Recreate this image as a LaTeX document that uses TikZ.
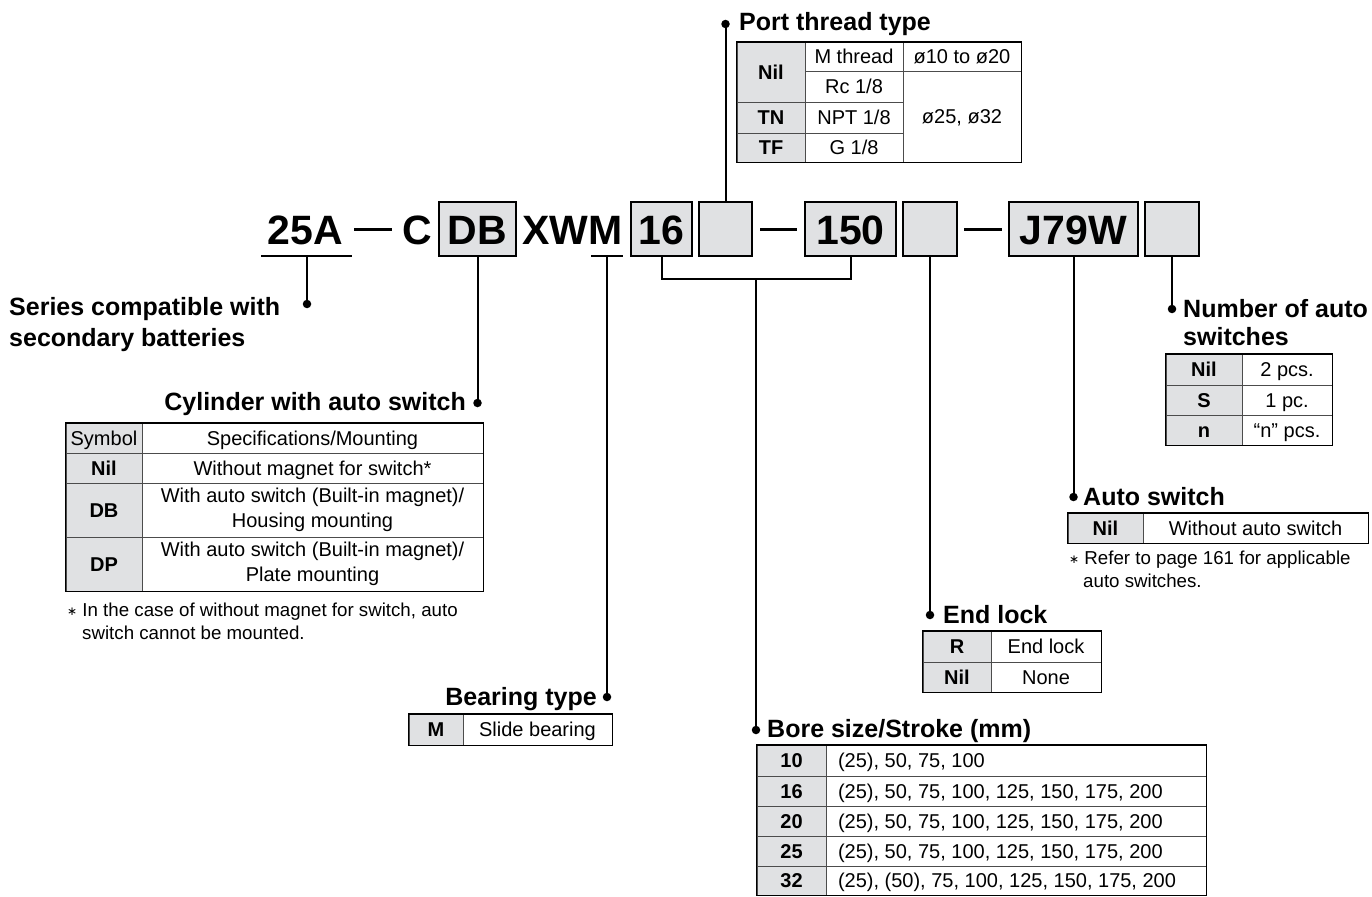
\documentclass[tikz,border=0pt]{standalone}
\usepackage{fontspec}
\setmainfont{Liberation Sans}
\newfontfamily\dejavu{DejaVu Sans}
\definecolor{cellgray}{HTML}{E0E1E3}
\newcommand\tcell[7]{%
  \node[#6,minimum width={(#4-#2)*1pt},minimum height={(#5-#3)*1pt}] (#1) at ({(#2+#4)/2},{(#3+#5)/2}) {#7};}
\newcommand\fnast{{\dejavu\fontsize{12}{12}\selectfont\raisebox{1pt}{∗}}}
\newcommand\lefttxt[1]{\makebox[[BOREW]pt][l]{#1}}
\begin{document}
\begin{tikzpicture}[x=1pt,y=-1pt,
  codebox/.style={draw=black, line width=1.3pt, fill=cellgray, inner sep=0pt, minimum height=54pt,
    text height=31pt, text depth=0pt, font=\fontsize{41}{41}\selectfont\bfseries},
  codetxt/.style={inner sep=0pt, text height=31pt, text depth=0pt, font=\fontsize{41}{41}\selectfont\bfseries},
  conn/.style={line width=2pt},
  dashline/.style={line width=3pt},
  dot/.style={circle, fill=black, inner sep=0pt, minimum size=8.5pt},
  head/.style={inner sep=0pt, font=\fontsize{25}{25}\selectfont\bfseries},
  foot/.style={inner sep=0pt, font=\fontsize{18.7}{22}\selectfont},
  cellbase/.style={draw=black!70, line width=0.8pt, inner sep=0pt, font=\fontsize{20}{25}\selectfont, align=center},
  cell/.style={cellbase, text height=14.3pt, text depth=0pt},
  gcell/.style={cell, fill=cellgray, font=\fontsize{20}{25}\selectfont\bfseries},
  frame/.style={line width=1.2pt},
  topline/.style={line width=2pt}
]
\useasboundingbox (0,0) rectangle (1372,896);

% ---------- model code ----------
\node[codetxt] (t25A) at (305.5,229) {25A};
\node[codetxt] (tC) at (417,229) {C};
\node[codebox, minimum width=77pt] (bDB) at (477.5,229) {DB};
\node[codetxt] (tXWM) at (572.5,229) {XWM};
\node[codebox, minimum width=61pt] (b16) at (661.5,229) {16};
\node[codebox, minimum width=53pt] (bE1) at (725.5,229) {};
\node[codebox, minimum width=91pt] (b150) at (850.5,229) {150};
\node[codebox, minimum width=54pt] (bE2) at (930,229) {};
\node[codebox, minimum width=129pt] (bJ) at (1073.5,229) {J79W};
\node[codebox, minimum width=54pt] (bE3) at (1172,229) {};

\coordinate (da1) at (354,229); \coordinate (da2) at (392,229);
\coordinate (db1) at (760,229); \coordinate (db2) at (797,229);
\coordinate (dc1) at (964,229); \coordinate (dc2) at (1002,229);
\draw[dashline] (da1) -- (da2);
\draw[dashline] (db1) -- (db2);
\draw[dashline] (dc1) -- (dc2);

% underlines
\coordinate (u25a) at (261,256); \coordinate (u25b) at (352,256); \coordinate (u25) at (307,256);
\coordinate (uMa) at (591,256); \coordinate (uMb) at (623,256); \coordinate (uM) at (607,256);
\draw[conn] (u25a) -- (u25b);
\draw[conn] (uMa) -- (uMb);

% ---------- dots ----------
\node[dot] (dPort) at (725.5,24) {};
\node[dot] (dSer) at (307,304) {};
\node[dot] (dCyl) at (477.5,403) {};
\node[dot] (dBear) at (607,697) {};
\node[dot] (dBore) at (756,730) {};
\node[dot] (dEnd) at (930,615) {};
\node[dot] (dAuto) at (1073.5,497) {};
\node[dot] (dNum) at (1172,309) {};

% ---------- connectors ----------
\coordinate (bus) at (756,279);
\draw[conn] (bE1.north) -- (dPort.center);
\draw[conn] (u25) -- (dSer.center);
\draw[conn] (bDB.south) -- (dCyl.center);
\draw[conn] (uM) -- (dBear.center);
\draw[conn] (b16.south) -- (b16.south |- bus) -- (b150.south |- bus) -- (b150.south);
\draw[conn] (bus) -- (dBore.center);
\draw[conn] (bE2.south) -- (dEnd.center);
\draw[conn] (bJ.south) -- (dAuto.center);
\draw[conn] (bE3.south) -- (dNum.center);

% ---------- headings ----------
\node[head, anchor=base west] (hPort) at (739,31) {Port thread type};
\node[head, anchor=base west] (hSer1) at (9,315) {Series compatible with};
\node[head, anchor=base west] (hSer2) at (9,346) {secondary batteries};
\node[head, anchor=base east] (hCyl) at (466,410) {Cylinder with auto switch};
\node[head, anchor=base east] (hBear) at (597,705) {Bearing type};
\node[head, anchor=base west] (hBore) at (767,737) {Bore size/Stroke (mm)};
\node[head, anchor=base west] (hEnd) at (943,623) {End lock};
\node[head, anchor=base west] (hAuto) at (1083,505) {Auto switch};
\node[head, anchor=base west] (hNum1) at (1183,317) {Number of auto};
\node[head, anchor=base west] (hNum2) at (1183,345) {switches};

% ---------- port thread table ----------
\tcell{pNil}{737}{42}{805}{102}{gcell}{Nil}
\tcell{pM}{805}{42}{903}{71}{cell}{M thread}
\tcell{pRc}{805}{71}{903}{102}{cell}{Rc 1/8}
\tcell{pTN}{737}{102}{805}{133}{gcell}{TN}
\tcell{pNPT}{805}{102}{903}{133}{cell}{NPT 1/8}
\tcell{pTF}{737}{133}{805}{162}{gcell}{TF}
\tcell{pG}{805}{133}{903}{162}{cell}{G 1/8}
\tcell{pD1}{903}{42}{1021}{71}{cell}{ø10 to ø20}
\tcell{pD2}{903}{71}{1021}{162}{cell}{ø25, ø32}
\draw[frame] (pNil.north west) rectangle (pD2.south east);
\draw[topline] (pNil.north west) -- (pD1.north east);

% ---------- cylinder table ----------
\tcell{cSym}{66}{423}{142}{453}{cell, fill=cellgray}{Symbol}
\tcell{cSpec}{142}{423}{483}{453}{cell}{Specifications/Mounting}
\tcell{cNil}{66}{453}{142}{483}{gcell}{Nil}
\tcell{cNilT}{142}{453}{483}{483}{cell}{Without magnet for switch*}
\tcell{cDB}{66}{483}{142}{537}{gcell}{DB}
\tcell{cDBT}{142}{483}{483}{537}{cellbase}{With auto switch (Built-in magnet)/\\Housing mounting}
\tcell{cDP}{66}{537}{142}{591}{gcell}{DP}
\tcell{cDPT}{142}{537}{483}{591}{cellbase}{With auto switch (Built-in magnet)/\\Plate mounting}
\draw[frame] (cSym.north west) rectangle (cDPT.south east);
\draw[topline] (cSym.north west) -- (cSpec.north east);

\node[foot, anchor=base west] (fn1) at (67,616) {\fnast\ In the case of without magnet for switch, auto};
\node[foot, anchor=base west] (fn2) at (82,639) {switch cannot be mounted.};

% ---------- bearing table ----------
\tcell{brM}{409}{714}{463}{745}{gcell}{M}
\tcell{brT}{463}{714}{612}{745}{cell}{Slide bearing}
\draw[frame] (brM.north west) rectangle (brT.south east);
\draw[topline] (brM.north west) -- (brT.north east);

% ---------- bore table ----------
\tcell{bo10}{757}{745}{826}{776}{gcell}{10}
\tcell{bo10t}{826}{745}{1206}{776}{cell}{\makebox[356pt][l]{(25), 50, 75, 100}}
\tcell{bo16}{757}{776}{826}{806}{gcell}{16}
\tcell{bo16t}{826}{776}{1206}{806}{cell}{\makebox[356pt][l]{(25), 50, 75, 100, 125, 150, 175, 200}}
\tcell{bo20}{757}{806}{826}{836}{gcell}{20}
\tcell{bo20t}{826}{806}{1206}{836}{cell}{\makebox[356pt][l]{(25), 50, 75, 100, 125, 150, 175, 200}}
\tcell{bo25}{757}{836}{826}{866}{gcell}{25}
\tcell{bo25t}{826}{836}{1206}{866}{cell}{\makebox[356pt][l]{(25), 50, 75, 100, 125, 150, 175, 200}}
\tcell{bo32}{757}{866}{826}{895}{gcell}{32}
\tcell{bo32t}{826}{866}{1206}{895}{cell}{\makebox[356pt][l]{(25), (50), 75, 100, 125, 150, 175, 200}}
\draw[frame] (bo10.north west) rectangle (bo32t.south east);
\draw[topline] (bo10.north west) -- (bo10t.north east);

% ---------- end lock table ----------
\tcell{eR}{923}{631}{991}{662}{gcell}{R}
\tcell{eRt}{991}{631}{1101}{662}{cell}{End lock}
\tcell{eN}{923}{662}{991}{692}{gcell}{Nil}
\tcell{eNt}{991}{662}{1101}{692}{cell}{None}
\draw[frame] (eR.north west) rectangle (eNt.south east);
\draw[topline] (eR.north west) -- (eRt.north east);

% ---------- auto switch table ----------
\tcell{aN}{1068}{513}{1143}{543}{gcell}{Nil}
\tcell{aNt}{1143}{513}{1368}{543}{cell}{Without auto switch}
\draw[frame] (aN.north west) rectangle (aNt.south east);
\draw[topline] (aN.north west) -- (aNt.north east);
\node[foot, anchor=base west] (fn3) at (1069,564) {\fnast\ Refer to page 161 for applicable};
\node[foot, anchor=base west] (fn4) at (1083,587) {auto switches.};

% ---------- number table ----------
\tcell{nN}{1166}{354}{1242}{385}{gcell}{Nil}
\tcell{nNt}{1242}{354}{1332}{385}{cell}{2 pcs.}
\tcell{nS}{1166}{385}{1242}{415}{gcell}{S}
\tcell{nSt}{1242}{385}{1332}{415}{cell}{1 pc.}
\tcell{nn}{1166}{415}{1242}{445}{gcell}{n}
\tcell{nnt}{1242}{415}{1332}{445}{cell}{“n” pcs.}
\draw[frame] (nN.north west) rectangle (nnt.south east);
\draw[topline] (nN.north west) -- (nNt.north east);
\end{tikzpicture}
\end{document}
